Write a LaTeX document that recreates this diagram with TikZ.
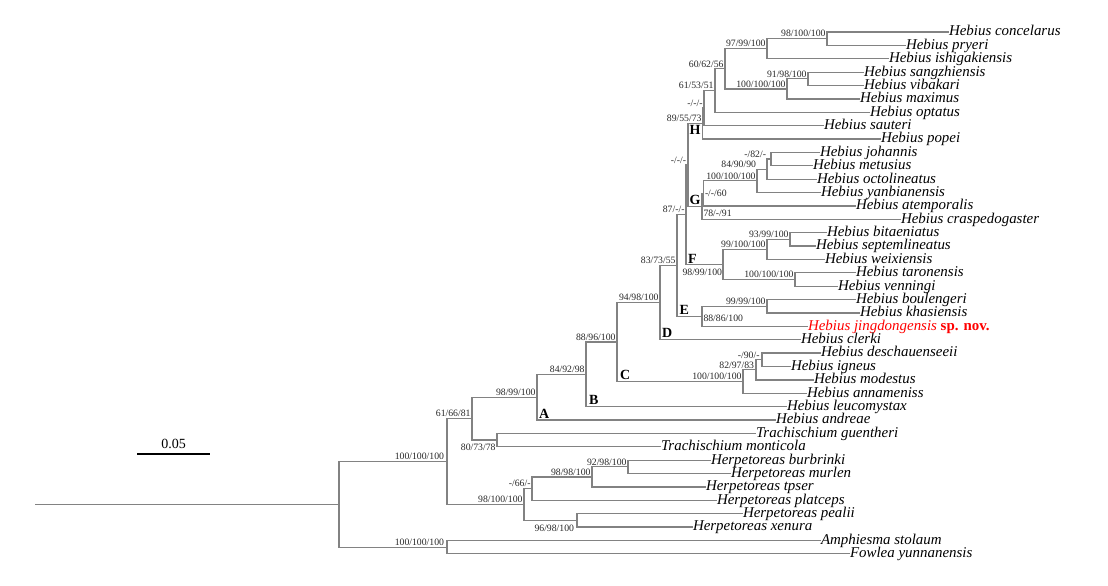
\documentclass[tikz,border=0pt]{standalone}
\usepackage{fontspec}
\setmainfont{Liberation Serif}
\usetikzlibrary{calc}
\definecolor{linegray}{RGB}{130,130,130}
\definecolor{txtgray}{RGB}{40,40,40}
\begin{document}
\begin{tikzpicture}[x=0.75pt,y=-0.75pt,
  br/.style={draw=linegray,line width=0.95pt},
  leaf/.style={anchor=west,inner sep=0pt,outer sep=0pt,text height=0.58em,text depth=0pt,font=\fontsize{11.2}{13}\selectfont\itshape,text=black},
  sup/.style={inner sep=0pt,outer sep=0pt,text height=0.66em,text depth=0pt,font=\fontsize{7.3}{8}\selectfont,text=txtgray},
  supd/.style={sup,anchor=south east},
  clade/.style={inner sep=0pt,outer sep=0pt,text depth=0pt,font=\fontsize{10.5}{12}\selectfont\bfseries,text=black},
  scalebar/.style={draw=black,line width=1.5pt}]
\useasboundingbox (0,0) rectangle (1108,586);
% leaves
\node[leaf] (L1) at (949,32.00) {Hebius concelarus};
\node[leaf] (L2) at (906,45.38) {Hebius pryeri};
\node[leaf] (L3) at (889,58.76) {Hebius ishigakiensis};
\node[leaf] (L4) at (864,72.14) {Hebius sangzhiensis};
\node[leaf] (L5) at (864,85.52) {Hebius vibakari};
\node[leaf] (L6) at (860,98.90) {Hebius maximus};
\node[leaf] (L7) at (870,112.28) {Hebius optatus};
\node[leaf] (L8) at (824,125.66) {Hebius sauteri};
\node[leaf] (L9) at (881,139.04) {Hebius popei};
\node[leaf] (L10) at (820,152.42) {Hebius johannis};
\node[leaf] (L11) at (813,165.80) {Hebius metusius};
\node[leaf] (L12) at (817,179.18) {Hebius octolineatus};
\node[leaf] (L13) at (821,192.56) {Hebius yanbianensis};
\node[leaf] (L14) at (856,205.94) {Hebius atemporalis};
\node[leaf] (L15) at (901,219.32) {Hebius craspedogaster};
\node[leaf] (L16) at (827,232.70) {Hebius bitaeniatus};
\node[leaf] (L17) at (816,246.08) {Hebius septemlineatus};
\node[leaf] (L18) at (825,259.46) {Hebius weixiensis};
\node[leaf] (L19) at (856,272.84) {Hebius taronensis};
\node[leaf] (L20) at (838,286.22) {Hebius venningi};
\node[leaf] (L21) at (856,299.60) {Hebius boulengeri};
\node[leaf] (L22) at (860,312.98) {Hebius khasiensis};
\node[leaf] (L23) at (808,326.36) {\textcolor{red}{Hebius jingdongensis} \textcolor{red}{\upshape\bfseries sp. nov.}};
\node[leaf] (L24) at (801,339.74) {Hebius clerki};
\node[leaf] (L25) at (821,353.12) {Hebius deschauenseeii};
\node[leaf] (L26) at (791,366.50) {Hebius igneus};
\node[leaf] (L27) at (814,379.88) {Hebius modestus};
\node[leaf] (L28) at (807,393.26) {Hebius annameniss};
\node[leaf] (L29) at (787,406.64) {Hebius leucomystax};
\node[leaf] (L30) at (776,420.02) {Hebius andreae};
\node[leaf] (L31) at (756,433.40) {Trachischium guentheri};
\node[leaf] (L32) at (661,446.78) {Trachischium monticola};
\node[leaf] (L33) at (711,460.16) {Herpetoreas burbrinki};
\node[leaf] (L34) at (731,473.54) {Herpetoreas murlen};
\node[leaf] (L35) at (706,486.92) {Herpetoreas tpser};
\node[leaf] (L36) at (717,500.30) {Herpetoreas platceps};
\node[leaf] (L37) at (743,513.68) {Herpetoreas pealii};
\node[leaf] (L38) at (693,527.06) {Herpetoreas xenura};
\node[leaf] (L39) at (821,540.44) {Amphiesma stolaum};
\node[leaf] (L40) at (850,553.82) {Fowlea yunnanensis};
% internal nodes
\coordinate (n1) at (827,38.69);
\coordinate (n2) at (767,48.73);
\coordinate (n3) at (808,78.83);
\coordinate (n4) at (787,88.87);
\coordinate (n5) at (725,68.80);
\coordinate (n6) at (715,90.54);
\coordinate (n7) at (704,108.10);
\coordinate (nH) at (702.5,123.57);
\coordinate (n8) at (771,159.11);
\coordinate (n9) at (767,169.15);
\coordinate (n10) at (757,180.85);
\coordinate (n11) at (703.5,193.40);
\coordinate (nG) at (702,206.36);
\coordinate (nHG) at (688,164.96);
\coordinate (n12) at (790,239.39);
\coordinate (n13) at (767,249.43);
\coordinate (n14) at (795,279.53);
\coordinate (nF) at (723,264.48);
\coordinate (n15) at (686,214.72);
\coordinate (n16) at (767,306.29);
\coordinate (nE) at (702,316.33);
\coordinate (n17) at (677,265.53);
\coordinate (nD) at (660,302.63);
\coordinate (n18) at (762,359.81);
\coordinate (n19) at (756,369.85);
\coordinate (nC) at (743,381.55);
\coordinate (n20) at (617,342.09);
\coordinate (nB) at (586,374.37);
\coordinate (nA) at (537,397.19);
\coordinate (n21) at (497,440.09);
\coordinate (n22) at (472,418.64);
\coordinate (n23) at (628,466.85);
\coordinate (n24) at (592,476.89);
\coordinate (n25) at (532,488.59);
\coordinate (n26) at (577,520.37);
\coordinate (n27) at (524,504.48);
\coordinate (n28) at (447,461.56);
\coordinate (n29) at (447,547.13);
\coordinate (root) at (339,504.35);
\coordinate (rootstart) at (35,504.35);
% branches
\draw[br] (n1) |- (L1.west); \draw[br] (n1) |- (L2.west);
\draw[br] (n2) |- (n1); \draw[br] (n2) |- (L3.west);
\draw[br] (n3) |- (L4.west); \draw[br] (n3) |- (L5.west);
\draw[br] (n4) |- (n3); \draw[br] (n4) |- (L6.west);
\draw[br] (n5) |- (n2); \draw[br] (n5) |- (n4);
\draw[br] (n6) |- (n5); \draw[br] (n6) |- (L7.west);
\draw[br] (n7) |- (n6); \draw[br] (n7) |- (L8.west);
\draw[br] (nH) |- (n7); \draw[br] (nH) |- (L9.west);
\draw[br] (n8) |- (L10.west); \draw[br] (n8) |- (L11.west);
\draw[br] (n9) |- (n8); \draw[br] (n9) |- (L12.west);
\draw[br] (n10) |- (n9); \draw[br] (n10) |- (L13.west);
\draw[br] (n11) |- (n10); \draw[br] (n11) |- (L14.west);
\draw[br] (nG) |- (n11); \draw[br] (nG) |- (L15.west);
\draw[br] (nHG) |- (nH); \draw[br] (nHG) |- (nG);
\draw[br] (n12) |- (L16.west); \draw[br] (n12) |- (L17.west);
\draw[br] (n13) |- (n12); \draw[br] (n13) |- (L18.west);
\draw[br] (n14) |- (L19.west); \draw[br] (n14) |- (L20.west);
\draw[br] (nF) |- (n13); \draw[br] (nF) |- (n14);
\draw[br] (n15) |- (nHG); \draw[br] (n15) |- (nF);
\draw[br] (n16) |- (L21.west); \draw[br] (n16) |- (L22.west);
\draw[br] (nE) |- (n16); \draw[br] (nE) |- (L23.west);
\draw[br] (n17) |- (n15); \draw[br] (n17) |- (nE);
\draw[br] (nD) |- (n17); \draw[br] (nD) |- (L24.west);
\draw[br] (n18) |- (L25.west); \draw[br] (n18) |- (L26.west);
\draw[br] (n19) |- (n18); \draw[br] (n19) |- (L27.west);
\draw[br] (nC) |- (n19); \draw[br] (nC) |- (L28.west);
\draw[br] (n20) |- (nD); \draw[br] (n20) |- (nC);
\draw[br] (nB) |- (n20); \draw[br] (nB) |- (L29.west);
\draw[br] (nA) |- (nB); \draw[br] (nA) |- (L30.west);
\draw[br] (n21) |- (L31.west); \draw[br] (n21) |- (L32.west);
\draw[br] (n22) |- (nA); \draw[br] (n22) |- (n21);
\draw[br] (n23) |- (L33.west); \draw[br] (n23) |- (L34.west);
\draw[br] (n24) |- (n23); \draw[br] (n24) |- (L35.west);
\draw[br] (n25) |- (n24); \draw[br] (n25) |- (L36.west);
\draw[br] (n26) |- (L37.west); \draw[br] (n26) |- (L38.west);
\draw[br] (n27) |- (n25); \draw[br] (n27) |- (n26);
\draw[br] (n28) |- (n22); \draw[br] (n28) |- (n27);
\draw[br] (n29) |- (L39.west); \draw[br] (n29) |- (L40.west);
\draw[br] (root) |- (n28); \draw[br] (root) |- (n29);
\draw[br] (rootstart) -- (root);
% support values
\node[supd] (s1) at ($(n1)+(-1.5,-1.8)$) {98/100/100};
\node[supd] (s2) at ($(n2)+(-1.5,-1.8)$) {97/99/100};
\node[supd] (s3) at ($(n3)+(-1.5,-1.8)$) {91/98/100};
\node[supd] (s4) at ($(n4)+(-1.5,-1.8)$) {100/100/100};
\node[supd] (s5) at ($(n5)+(-1.5,-1.8)$) {60/62/56};
\node[supd] (s6) at ($(n6)+(-1.5,-1.8)$) {61/53/51};
\node[supd] (s7) at ($(n7)+(-1.5,-1.8)$) {-/-/-};
\node[supd] (sH) at ($(nH)+(-1,-1.8)$) {89/55/73};
\node[supd] (s8) at ($(n8)+(-5,-1.8)$) {-/82/-};
\node[supd] (s9) at ($(n9)+(-11,-1.8)$) {84/90/90};
\node[supd] (s10) at ($(n10)+(-1.5,-1.8)$) {100/100/100};
\node[sup,anchor=west] (s11) at ($(n11)+(1.5,-1)$) {-/-/60};
\node[sup,anchor=west] (sG) at ($(nG)+(1.5,6.2)$) {78/-/91};
\node[supd] (sHG) at ($(nHG)+(-2,-1.8)$) {-/-/-};
\node[supd] (s12) at ($(n12)+(-1.5,-1.8)$) {93/99/100};
\node[supd] (s13) at ($(n13)+(-1.5,-1.8)$) {99/100/100};
\node[supd] (s14) at ($(n14)+(-1.5,-1.8)$) {100/100/100};
\node[sup,anchor=north east] (sF) at ($(nF)+(-1,2)$) {98/99/100};
\node[supd] (s15) at ($(n15)+(-1.5,-1.8)$) {87/-/-};
\node[supd] (s16) at ($(n16)+(-1.5,-1.8)$) {99/99/100};
\node[sup,anchor=west] (sE) at ($(nE)+(1.5,0.8)$) {88/86/100};
\node[supd] (s17) at ($(n17)+(-1.5,-1.8)$) {83/73/55};
\node[supd] (sD) at ($(nD)+(-1.5,-1.8)$) {94/98/100};
\node[supd] (s18) at ($(n18)+(-2.5,-1.8)$) {-/90/-};
\node[supd] (s19) at ($(n19)+(-2,-1.8)$) {82/97/83};
\node[supd] (sC) at ($(nC)+(-1.5,-1.8)$) {100/100/100};
\node[supd] (s20) at ($(n20)+(-1.5,-1.8)$) {88/96/100};
\node[supd] (sB) at ($(nB)+(-1.5,-1.8)$) {84/92/98};
\node[supd] (sA) at ($(nA)+(-1.5,-1.8)$) {98/99/100};
\node[sup,anchor=north east] (s21) at ($(n21)+(-1.5,2)$) {80/73/78};
\node[supd] (s22) at ($(n22)+(-1.5,-1.8)$) {61/66/81};
\node[supd] (s23) at ($(n23)+(-1.5,-1.8)$) {92/98/100};
\node[supd] (s24) at ($(n24)+(-1.5,-1.8)$) {98/98/100};
\node[supd] (s25) at ($(n25)+(-1.5,-1.8)$) {-/66/-};
\node[sup,anchor=north east] (s26) at ($(n26)+(-3,2)$) {96/98/100};
\node[supd] (s27) at ($(n27)+(-1.5,-1.8)$) {98/100/100};
\node[supd] (s28) at ($(n28)+(-3,-1.8)$) {100/100/100};
\node[supd] (s29) at ($(n29)+(-3,-1.8)$) {100/100/100};
% clade letters
\node[clade,anchor=south west] (cA) at (539,418.5) {A};
\node[clade,anchor=south west] (cB) at (589,404.5) {B};
\node[clade,anchor=south west] (cC) at (620,379.5) {C};
\node[clade,anchor=south west] (cD) at (662,337.5) {D};
\node[clade,anchor=south west] (cE) at (679.5,314.8) {E};
\node[clade,anchor=south west] (cF) at (688,263) {F};
\node[clade,anchor=south west] (cG) at (689.5,204.5) {G};
\node[clade,anchor=north west,text height=0.66em] (cH) at (689.5,125.5) {H};
% scale bar
\coordinate (sb1) at (137,454);
\coordinate (sb2) at (210,454);
\draw[scalebar] (sb1) -- (sb2);
\node[font=\fontsize{10.5}{12}\selectfont,inner sep=0pt,anchor=south] (sbl) at ($(sb1)!0.5!(sb2)+(0,-5)$) {0.05};
\end{tikzpicture}
\end{document}
